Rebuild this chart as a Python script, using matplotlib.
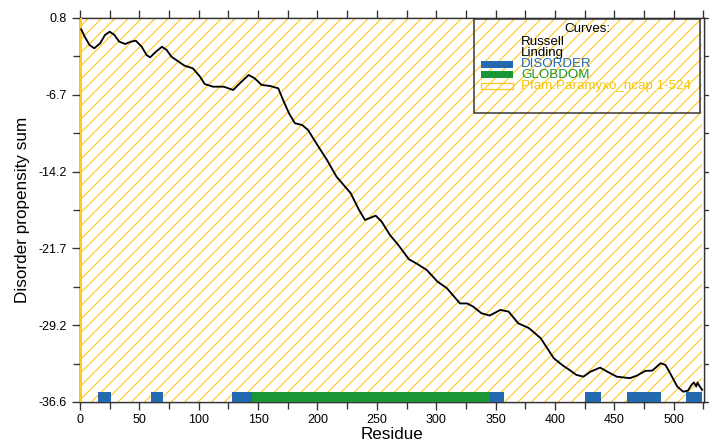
import matplotlib.pyplot as plt
from matplotlib.patches import Rectangle

plt.rcParams['font.family'] = ['Liberation Sans', 'DejaVu Sans']
plt.rcParams['hatch.linewidth'] = 0.7

# disorder propensity curve
residue = [1, 4, 8, 12, 17, 21, 25, 29, 33, 38, 43, 47, 52, 56, 59, 64, 69, 73,
           77, 83, 88, 95, 101, 105, 112, 121, 129, 136, 142, 147, 153, 160, 167,
           171, 176, 181, 187, 192, 199, 208, 216, 228, 235, 240, 249, 254, 261,
           268, 277, 284, 292, 301, 309, 320, 326, 331, 338, 345, 354, 361, 369,
           378, 388, 399, 407, 413, 418, 424, 430, 438, 444, 452, 463, 469, 476,
           482, 489, 493, 497, 503, 508, 512, 515, 517, 519, 520, 522, 524]
propensity = [-0.3, -1.02, -1.83, -2.15, -1.66, -0.86, -0.53, -0.86, -1.5, -1.73,
              -1.5, -1.41, -2.0, -2.8, -3.03, -2.48, -2.0, -2.32, -2.97, -3.45,
              -3.84, -4.1, -4.9, -5.63, -5.89, -5.89, -6.21, -5.4, -4.75, -5.07,
              -5.72, -5.82, -6.05, -7.18, -8.48, -9.45, -9.62, -10.1, -11.4, -13.03,
              -14.65, -16.27, -17.9, -18.87, -18.45, -19.03, -20.33, -21.3, -22.7,
              -23.15, -23.74, -24.87, -25.52, -27.0, -27.0, -27.3, -27.95, -28.18,
              -27.63, -27.8, -28.93, -29.4, -30.39, -32.34, -33.08, -33.54, -33.96,
              -34.13, -33.64, -33.25, -33.64, -34.13, -34.28, -34.03, -33.57, -33.54,
              -32.82, -32.99, -33.8, -35.1, -35.6, -35.49, -34.93, -34.7, -35.1,
              -34.7, -35.1, -35.42]

disorder_start = [15, 60, 128, 345, 425, 461, 510]
disorder_end = [26, 70, 145, 357, 439, 489, 524]
globdom_start = [145]
globdom_end = [345]
pfam_start, pfam_end = 1, 524

ytick_vals = [0.8, -6.68, -14.16, -21.64, -29.12, -36.6]
ytick_labels = ['0.8', '-6.7', '-14.2', '-21.7', '-29.2', '-36.6']

legend_labels = ['Russell', 'Linding', 'DISORDER', 'GLOBDOM', 'Pfam:Paramyxo_ncap 1-524']

BLUE = '#2369b0'
GREEN = '#1a9634'
GOLD = '#ffc926'
TXT_GOLD = '#f5c400'
AX_COL = '#333333'

fig = plt.figure(figsize=(709 / 120, 445 / 120), dpi=120)
ax = fig.add_axes([80 / 709, 1 - 402 / 445, 624 / 709, 384 / 445])

ymin, ymax = -36.6, 0.8
ax.set_xlim(0, 525.5)
ax.set_ylim(ymin, ymax)

# Pfam domain, hatched over the whole range
ax.add_patch(Rectangle((pfam_start, ymin), pfam_end - pfam_start, ymax - ymin,
                       facecolor='none', edgecolor=GOLD, hatch='///', lw=0, zorder=1))
ax.axvline(0.5, color=GOLD, lw=1.2, zorder=2.6)

ax.plot(residue, propensity, color='black', lw=1.1, zorder=3)

bar_h = 1.0
ax.broken_barh([(s, e - s) for s, e in zip(disorder_start, disorder_end)],
               (ymin, bar_h), facecolors=BLUE, zorder=4)
ax.broken_barh([(s, e - s) for s, e in zip(globdom_start, globdom_end)],
               (ymin, bar_h), facecolors=GREEN, zorder=4)

# ticks
ax.set_yticks(ytick_vals)
ax.set_yticklabels(ytick_labels)
ax.set_yticks([(a + b) / 2 for a, b in zip(ytick_vals[:-1], ytick_vals[1:])], minor=True)
ax.set_xticks(range(0, 501, 50))
ax.set_xticks(range(25, 526, 50), minor=True)
ax.tick_params(axis='both', which='both', direction='out', labelsize=7.5,
               color=AX_COL, width=0.8)
ax.tick_params(axis='y', which='major', length=5, right=True, pad=3)
ax.tick_params(axis='y', which='minor', length=4, right=True)
ax.tick_params(axis='x', which='major', length=5, pad=2)
ax.tick_params(axis='x', which='minor', length=4)

# top axis ticks every 25
top = ax.twiny()
top.set_xlim(ax.get_xlim())
top.set_xticks(range(0, 526, 25))
top.tick_params(direction='out', length=5, labeltop=False, color=AX_COL, width=0.8)
top.set_zorder(ax.get_zorder() - 1)

for sp in list(ax.spines.values()) + list(top.spines.values()):
    sp.set_color(AX_COL)
    sp.set_linewidth(0.8)

ax.set_xlabel('Residue', fontsize=10.2, labelpad=1)
ax.set_ylabel('Disorder propensity sum', fontsize=10.3, labelpad=5)

# legend box drawn by hand
tr = ax.transAxes
ax.add_patch(Rectangle((0.631, 0.753), 0.363, 0.244, transform=tr, facecolor='none',
                       edgecolor=AX_COL, lw=0.9, zorder=5))
ax.text(0.8125, 0.972, 'Curves:', transform=tr, ha='center', va='center', fontsize=8, zorder=6)
rows = [0.9375, 0.909, 0.880, 0.852, 0.823]
txt_colors = ['black', 'black', BLUE, GREEN, TXT_GOLD]
for lab, yy, c in zip(legend_labels, rows, txt_colors):
    ax.text(0.707, yy, lab, transform=tr, ha='left', va='center', fontsize=8,
            color=c, zorder=6)
ax.add_patch(Rectangle((0.643, rows[2] - 0.009), 0.051, 0.018, transform=tr,
                       facecolor=BLUE, edgecolor='none', zorder=6))
ax.add_patch(Rectangle((0.643, rows[3] - 0.009), 0.051, 0.018, transform=tr,
                       facecolor=GREEN, edgecolor='none', zorder=6))
ax.add_patch(Rectangle((0.643, rows[4] - 0.009), 0.051, 0.018, transform=tr,
                       facecolor='none', edgecolor=GOLD, lw=0.8, zorder=6))

fig.savefig('out.png', dpi=120)
